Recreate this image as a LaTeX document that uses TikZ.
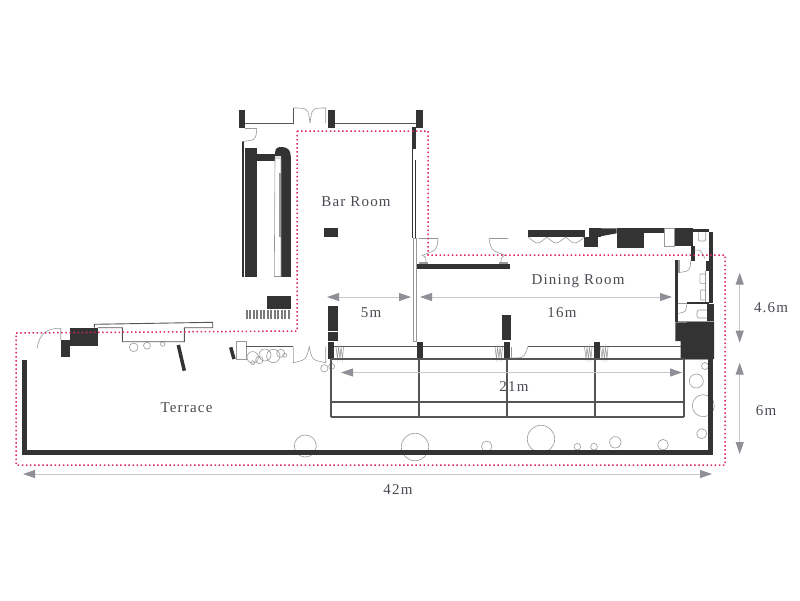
\documentclass[tikz,border=0pt]{standalone}
\usepackage{fontspec}
\setmainfont[LetterSpace=8]{Liberation Serif}
\usetikzlibrary{arrows.meta}
\definecolor{wallc}{HTML}{333333}
\definecolor{linec}{HTML}{555555}
\definecolor{thinc}{HTML}{999999}
\definecolor{dimc}{HTML}{C8C8C8}
\definecolor{tipc}{HTML}{8F8F97}
\definecolor{redc}{HTML}{E0245E}
\definecolor{textc}{HTML}{4A4A52}
\tikzset{
  wall/.style = {fill=wallc, draw=none},
  fine/.style = {draw=linec, line width=0.9pt},
  thin line/.style = {draw=thinc, line width=0.6pt},
  grid line/.style = {draw=linec, line width=1.2pt},
  bound/.style = {draw=redc, line width=1.5pt, dash pattern=on 1.5pt off 2.6pt},
  dim/.style = {draw=dimc, line width=1pt,
    {Triangle[length=12pt,width=8pt,color=tipc]}-{Triangle[length=12pt,width=8pt,color=tipc]}},
  label/.style = {text=textc, font=\fontsize{15}{15}\selectfont, inner sep=0pt}
}
\begin{document}
\begin{tikzpicture}[x=1pt,y=-1pt]
\useasboundingbox (0,0) rectangle (800,600);
% plants
\foreach \x/\y/\r in {133.7/347.3/4.3, 147/345.7/3.5, 162.7/344/2.2,
    252.7/357.3/5.7, 252.7/362.7/2, 259.3/360/3.7, 265/355/6, 273.3/356/6.7,
    280.7/353.3/4, 284.7/355.3/2, 324.3/368.3/3.7, 331.7/366.3/3,
    305.3/446/11, 415/447/13.7, 486.7/446.3/5.3, 541/439/13.7, 577.3/446.7/3.3,
    594/446.7/3.4, 615.3/442.3/5.7, 663/444.7/5.3,
    705/366/3.5, 696.3/381/7, 703.3/405.7/11, 701.7/433.7/5}
  \draw[thin line] (\x,\y) circle (\r);
% solid walls
\foreach \a/\b/\c/\d in {238.7/110.3/245.3/128, 328.3/110.3/334.5/128, 416/110.3/422.7/128,
    241.5/141/244/276.5, 245/147.5/256.5/276.5, 256.5/154/275/160.5, 281/156/290.7/276.5,
    324/228.3/338/237, 267.3/295.7/290.7/308.7, 328.3/306/337.7/330.7, 328.3/331.7/337.7/341.3,
    328.3/342/334.3/359, 416.7/342/422.7/359, 503.7/342/510/359, 593.7/342/599.7/359,
    502/315.3/511.3/340.3, 416.7/264/510/268.5, 411.7/127.3/416/149,
    60.7/340/70/357.3, 70/327.7/97.7/346, 22.3/360/27/454.7, 22.3/450/712.7/454.7,
    708/359/712.7/454.7, 528.3/230/585/237, 584.3/236.7/598.3/246.7, 589.3/228.3/601/236.7,
    616.7/228.3/644.3/248.3, 644.3/228.3/664/233.3, 674.3/228.3/692.7/246,
    692.7/228.8/709.3/232.3, 709.3/232/712.7/303, 690.7/245.7/694.7/260.7,
    705.7/260.7/709.3/271, 686.7/301.7/709.3/304.3, 675.3/260/678/322,
    706.7/304.3/714.3/321}
  \fill[wall] (\a,\b) rectangle (\c,\d);
\fill[wall] (275,276) -- (281,276) -- (281,156) -- (275,156) -- (275,153)
    .. controls (275,147) and (279,147) .. (282,147)
    .. controls (288,147) and (290.7,151) .. (290.7,156) -- (290.7,160) -- (281,160) -- (281,158) -- (275,158) -- cycle;
\fill[white] (275,158) rectangle (281,276);
\fill[wall] (601,228.3) -- (616.7,228.3) -- (616.7,233.3) -- (602,236) -- (601,236) -- cycle;
\fill[wall] (675.3,322.3) -- (687,322.3) -- (687,321) -- (714,321) -- (714,359)
    -- (680.7,359) -- (680.7,341) -- (675.3,341) -- cycle;
% slanted bits
\draw[wallc, line width=3.5pt] (178.3,345) -- (184.3,370.7);
\draw[wallc, line width=3.5pt] (230.7,347.3) -- (234,359);
% bar room
\draw[fine] (245,123.5) -- (293.3,123.5) -- (293.3,108);
\draw[fine] (334.5,123.5) -- (416,123.5);
\draw[thin line] (293.3,108) .. controls (308,108) .. (310,123);
\draw[thin line] (310,123) .. controls (312,108) .. (325.7,108) -- (325.7,123);
\draw[thin line] (245,128.5) -- (256.7,128.5) .. controls (256,140) .. (242,141.5);
\draw[thin line] (275,158) -- (281,158) -- (281,276.5) -- (274.3,276.5) -- cycle;
\draw[thinc, line width=1.6pt] (280,173) -- (280,237);
\draw[wallc, line width=1pt] (412.3,149) -- (412.3,238);
\draw[wallc, line width=1pt] (415.5,160) -- (415.5,238);
\draw[thin line] (413.3,238) rectangle (416.7,341.7);
% stairs
\foreach \x in {245.7,249.2,...,288}
  \fill[thinc!80!black] (\x,310) rectangle ++(2.2,9);
% terrace fittings
\draw[thin line] (37.3,348.3) .. controls (39,333) and (48,328) .. (60.7,328.3) -- (60.7,340);
\draw[fine] (97.7,327.7) -- (122.3,327.7) -- (122.3,341.7) -- (184.3,341.7) -- (184.3,327.7)
    -- (212.7,327.7) -- (212.7,322.3) -- (94.3,324.3) -- (94.3,327.7);
\draw[thin line, fill=white] (236.7,341.3) rectangle (246,359.3);
\draw[fine] (246,346.7) -- (293.3,346.7);
\draw[thin line] (293.3,346.7) -- (293.3,362.7) .. controls (306,360) .. (309.3,346.7)
    .. controls (312,360) .. (325.7,362.7) -- (325.7,346.7);
% glass front and tables
\foreach \a/\b in {334.3/416.7, 422.7/503.7, 528/593.7, 599.7/680.7}
  \draw[fine] (\a,346.5) -- (\b,346.5);
\draw[thin line] (511.5,347) -- (511.5,358) .. controls (524,358) .. (528,346.5);
\foreach \x in {336,495,584.5,600.5} {
  \draw[thin line] (\x,347) -- ++(1.5,12) -- ++(1,-12) -- ++(1.5,12) -- ++(1,-12) -- ++(1.5,12) -- ++(1,-12);
}
\draw[thin line] (684,359) -- (708,359);
\foreach \y in {359,402,417}
  \draw[grid line] (331,\y) -- (684,\y);
\foreach \x in {331,419,507,595,684}
  \draw[grid line] (\x,359) -- (\x,417);
% dining room doors
\draw[thin line] (418.7,238.5) -- (438,238.5) .. controls (437,250) .. (423,255);
\draw[thin line] (489,238.5) -- (508,238.5);
\draw[thin line] (489,238.5) .. controls (491,250) .. (504,255);
\draw[thin line] (421.5,255) .. controls (426,257) .. (426,263);
\draw[thin line] (505,255) .. controls (501,258) .. (501,263);
\fill[thinc] (419,262) rectangle (428,264);
\fill[thinc] (499,262) rectangle (508,264);
\foreach \x in {528.3,547,565.7} {
  \draw[thin line] (\x,237) .. controls (\x+9,245) .. (\x+18.7,237);
}
\draw[thin line] (664,228.3) rectangle (674.3,246);
% rest rooms
\draw[thin line] (694.7,250) .. controls (701,250) .. (705,258.5);
\draw[thin line] (690.7,260.7) .. controls (690,271) .. (678,272.7);
\fill[thinc] (678,260) rectangle (680,272.7);
\draw[thin line] (686.7,304.3) .. controls (686,312) .. (678.3,313.3);
\draw[thin line] (678,303.5) -- (686.7,303.5);
\draw[thin line] (705.7,271) -- (705.7,302);
\draw[thin line] (698.3,232.3) -- (698.3,238) .. controls (698.3,241) .. (702,241) .. controls (705.7,241) .. (705.7,238) -- (705.7,232.3);
\draw[thin line, rounded corners=1pt] (705,274) -- (699.8,274) -- (699.8,283.3) -- (705,283.3);
\draw[thin line, rounded corners=1pt] (705.5,290) -- (700.3,290) -- (700.3,300) -- (705.5,300);
\draw[thin line, rounded corners=2pt] (706.7,310) -- (697,310) -- (697,318) -- (706.7,318);
\draw[thin line] (678,321.7) -- (714,321.7);
% boundary
\draw[bound] (297,131) -- (428,131) -- (428,255) -- (725,255) -- (725,465) -- (16,465)
    -- (16,333) -- (297,331) -- cycle;
% dimensions
\coordinate (barl) at (327,297);
\coordinate (barr) at (411,297);
\coordinate (dinl) at (420,297);
\coordinate (dinr) at (672,297);
\coordinate (tabl) at (341,372.5);
\coordinate (tabr) at (682,372.5);
\coordinate (alll) at (23,474);
\coordinate (allr) at (712,474);
\coordinate (dept) at (739.7,272.7);
\coordinate (depb) at (739.7,342.7);
\coordinate (tert) at (739.7,362.7);
\coordinate (terb) at (739.7,454);
\foreach \a/\b in {barl/barr, dinl/dinr, tabl/tabr, alll/allr, dept/depb, tert/terb}
  \draw[dim] (\a) -- (\b);
% labels
\node[label] (barroom) at (356,202) {Bar Room};
\node[label] (dining) at (578,281) {Dining Room};
\node[label] (terrace) at (186.5,408) {Terrace};
\node[label] (fivem) at (371,313) {5m};
\node[label] (sixteenm) at (562,313) {16m};
\node[label] (twentyonem) at (514,387) {21m};
\node[label] (fortytwom) at (398,490) {42m};
\node[label] (fourm) at (771,307.5) {4.6m};
\node[label] (sixm) at (766,411) {6m};
\end{tikzpicture}
\end{document}
